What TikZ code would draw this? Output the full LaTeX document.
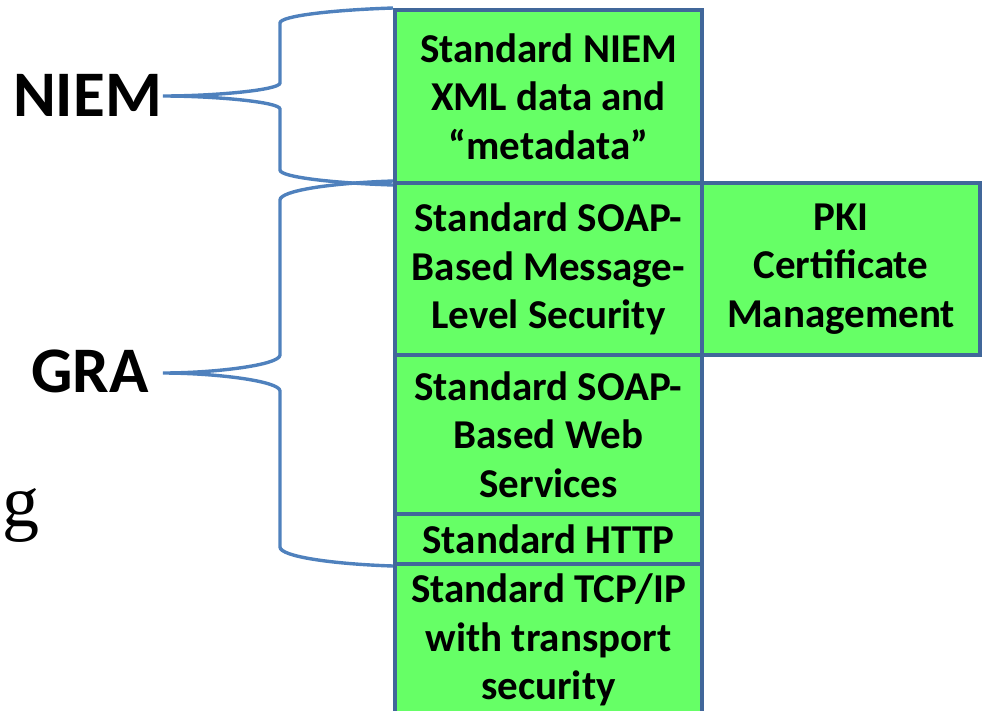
\documentclass[tikz,border=0pt]{standalone}
\usepackage{fontspec}
\setmainfont{Carlito}
\newfontfamily\fragface{Liberation Serif}
\definecolor{layerfill}{HTML}{66FF66}
\definecolor{layeredge}{HTML}{41679A}
\definecolor{bracecol}{HTML}{4F81BD}
\newcommand{\layerfont}{\fontsize{41}{48.5}\selectfont\bfseries}
\newcommand{\tagfont}{\fontsize{65}{78}\selectfont\bfseries}
\begin{document}
\begin{tikzpicture}[x=1pt,y=-1pt,
  layer/.style={draw=layeredge, line width=4pt, fill=layerfill,
    inner sep=0pt, align=center, font=\layerfont},
  bracestroke/.style={draw=bracecol, line width=3.4pt},
  tag/.style={font=\tagfont, inner sep=0pt, anchor=base east}]
\useasboundingbox (0,0) rectangle (982,710);

% group labels and the tips of their braces
\node[tag] (niemtag) at (162,116) {NIEM};
\node[tag] (gratag) at (149,392) {GRA};
\coordinate (niemtip) at (163,96);
\coordinate (gratip) at (163,373);
\node[anchor=base west, inner sep=0pt, font=\fragface\fontsize{74}{88}\selectfont] (gfrag) at (2,526) {g};

% the protocol stack
\node[layer, minimum width=307pt, minimum height=173pt] (niemdata) at (548.5,96.5)
  {Standard NIEM\\XML data and\\“metadata”};
\node[layer, minimum width=307pt, minimum height=172pt] (msgsec) at (548.5,269)
  {Standard SOAP-\\Based Message-\\Level Security};
\node[layer, minimum width=278pt, minimum height=172pt] (pki) at (841,269)
  {PKI\\Certificate\\Management};
\node[layer, minimum width=307pt, minimum height=159pt] (websvc) at (548.5,434.5)
  {Standard SOAP-\\Based Web\\Services};
\node[layer, minimum width=307pt, minimum height=50pt] (http) at (548.5,539)
  {Standard HTTP};
\node[layer, minimum width=307pt, minimum height=152pt] (tcp) at (548.5,640)
  {Standard TCP/IP\\with transport\\security};

% curly braces grouping the layers
\draw[bracestroke] (niemdata.north west)
  .. controls (331.5,10) and (280,16) .. (280,23) -- (280,83)
  .. controls (280,90) and (215,96) .. (niemtip)
  .. controls (215,96) and (280,102) .. (280,109) -- (280,170)
  .. controls (280,177) and (331.5,183) .. (niemdata.south west);
\draw[bracestroke] (msgsec.north west)
  .. controls (331.5,183) and (280,190.6) .. (280,200) -- (280,355)
  .. controls (280,365) and (215,373) .. (gratip)
  .. controls (215,373) and (280,381) .. (280,391) -- (280,547)
  .. controls (280,556.4) and (331.5,564) .. (http.south west);
\end{tikzpicture}
\end{document}
